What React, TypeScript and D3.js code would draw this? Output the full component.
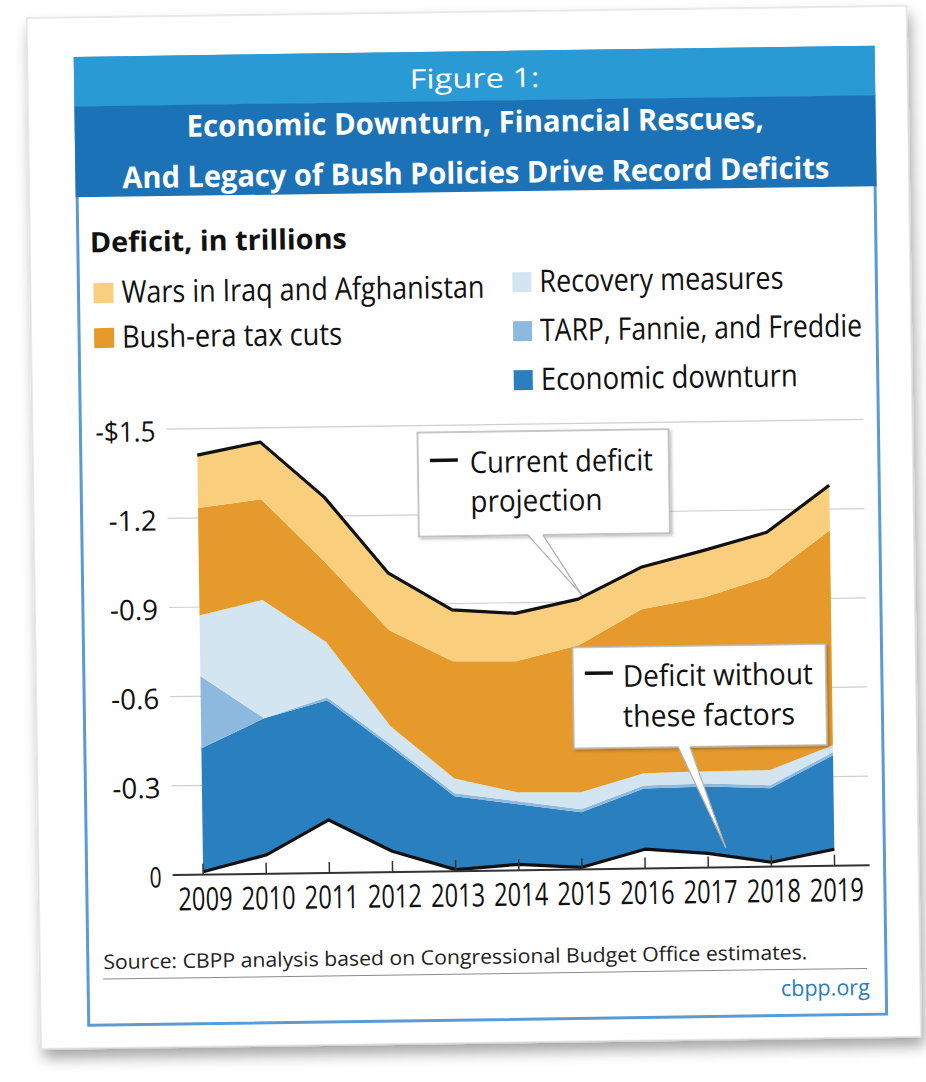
import React from 'react';
import * as d3 from 'd3';

// ---- Data (deficit in trillions, shown as negative on the axis) ----
const years = [2009, 2010, 2011, 2012, 2013, 2014, 2015, 2016, 2017, 2018, 2019];
const deficitWithoutFactors = [0.01, 0.063, 0.178, 0.07, 0.005, 0.02, 0.007, 0.065, 0.048, 0.015, 0.056];
const economicDownturn = [0.415, 0.46, 0.403, 0.35, 0.247, 0.202, 0.185, 0.204, 0.225, 0.249, 0.316];
const tarpFannieFreddie = [0.243, 0.0, 0.01, 0.01, 0.01, 0.01, 0.01, 0.01, 0.01, 0.01, 0.01];
const recoveryMeasures = [0.204, 0.398, 0.186, 0.06, 0.05, 0.03, 0.057, 0.041, 0.041, 0.051, 0.024];
const bushTaxCuts = [0.361, 0.339, 0.268, 0.323, 0.394, 0.441, 0.495, 0.552, 0.585, 0.649, 0.723];
const warsIraqAfghanistan = [0.178, 0.192, 0.219, 0.192, 0.173, 0.161, 0.155, 0.141, 0.158, 0.151, 0.151];

const yTicks = [0, 0.3, 0.6, 0.9, 1.2, 1.5];
const yTickLabels = ['0', '-0.3', '-0.6', '-0.9', '-1.2', '-$1.5'];

const seriesKeys = ['base', 'downturn', 'tarp', 'recovery', 'taxCuts', 'wars'];
const seriesColors: Record<string, string> = {
  base: 'none',
  downturn: '#2a7fbf',
  tarp: '#8cb9dd',
  recovery: '#d4e5f2',
  taxCuts: '#e69a2b',
  wars: '#f9cf7e',
};

const legendLeft = [
  { key: 'wars', label: 'Wars in Iraq and Afghanistan', width: 363 },
  { key: 'taxCuts', label: 'Bush-era tax cuts', width: 220 },
];
const legendRight = [
  { key: 'recovery', label: 'Recovery measures', width: 244 },
  { key: 'tarp', label: 'TARP, Fannie, and Freddie', width: 322 },
  { key: 'downturn', label: 'Economic downturn', width: 257 },
];

const FONT = "'Open Sans', 'Noto Sans', sans-serif";

export default function App() {
  const W = 926;
  const H = 1082;

  const x = d3.scaleLinear().domain([2009, 2019]).range([198.5, 830]);
  const y = d3.scaleLinear().domain([0, 1.5]).range([871, 425]);

  const rows = years.map((yr, i) => ({
    year: yr,
    base: deficitWithoutFactors[i],
    downturn: economicDownturn[i],
    tarp: tarpFannieFreddie[i],
    recovery: recoveryMeasures[i],
    taxCuts: bushTaxCuts[i],
    wars: warsIraqAfghanistan[i],
  }));

  const stacked = d3.stack<any>().keys(seriesKeys)(rows);
  const area = d3
    .area<any>()
    .x((d) => x(d.data.year))
    .y0((d) => y(d[0]))
    .y1((d) => y(d[1]));

  const topLine = d3
    .line<any>()
    .x((d) => x(d.data.year))
    .y((d) => y(d[1]));
  const baseLine = d3
    .line<number>()
    .x((_, i) => x(years[i]))
    .y((d) => y(d));

  const currentSeries = stacked[stacked.length - 1];

  const lineStroke = '#111';

  return (
    <svg
      width={W}
      height={H}
      viewBox={`0 0 ${W} ${H}`}
      style={{ position: 'absolute', left: 0, top: 0, background: '#fff' }}
    >
      <defs>
        <filter id="cardShadow" x="-10%" y="-10%" width="120%" height="120%">
          <feDropShadow dx="3" dy="9" stdDeviation="7" floodColor="#000" floodOpacity="0.35" />
        </filter>
        <filter id="boxShadow" x="-10%" y="-10%" width="130%" height="130%">
          <feDropShadow dx="2" dy="2" stdDeviation="1.5" floodColor="#000" floodOpacity="0.25" />
        </filter>
      </defs>
      <rect x={0} y={0} width={W} height={H} fill="#fff" />
      <g transform="rotate(-0.8 463 541)">
        {/* card */}
        <rect x={34} y={12} width={880} height={1031} fill="#fff" stroke="#d4d4d4" strokeWidth={1} filter="url(#cardShadow)" />

        {/* panel */}
        <rect x={82} y={53} width={798} height={967} fill="#fff" stroke="#5b9bd3" strokeWidth={3} />
        <rect x={80.5} y={51.5} width={801} height={50} fill="#2a9ad5" />
        <rect x={80.5} y={101} width={801} height={91} fill="#1c72b6" />

        <text x={481} y={88} textAnchor="middle" fill="#fff" fontFamily={FONT} fontSize={27}
          textLength={130} lengthAdjust="spacingAndGlyphs">Figure 1:</text>
        <text x={481} y={133} textAnchor="middle" fill="#fff" fontFamily={FONT} fontSize={30} fontWeight="bold"
          textLength={577} lengthAdjust="spacingAndGlyphs">Economic Downturn, Financial Rescues,</text>
        <text x={481} y={183.5} textAnchor="middle" fill="#fff" fontFamily={FONT} fontSize={30} fontWeight="bold"
          textLength={707} lengthAdjust="spacingAndGlyphs">And Legacy of Bush Policies Drive Record Deficits</text>

        {/* subtitle */}
        <text x={94} y={247} fill="#111" fontFamily={FONT} fontSize={28} fontWeight="bold"
          textLength={257} lengthAdjust="spacingAndGlyphs">Deficit, in trillions</text>

        {/* legend */}
        {legendLeft.map((d, i) => {
          const by = 298 + i * 45;
          return (
            <g key={d.key}>
              <rect x={97} y={by - 20} width={20} height={20} fill={seriesColors[d.key]} />
              <text x={125} y={by} fill="#111" fontFamily={FONT} fontSize={31}
                textLength={d.width} lengthAdjust="spacingAndGlyphs">{d.label}</text>
            </g>
          );
        })}
        {legendRight.map((d, i) => {
          const by = 293 + i * 49;
          return (
            <g key={d.key}>
              <rect x={516} y={by - 20} width={19} height={20} fill={seriesColors[d.key]} />
              <text x={543} y={by} fill="#111" fontFamily={FONT} fontSize={31}
                textLength={d.width} lengthAdjust="spacingAndGlyphs">{d.label}</text>
            </g>
          );
        })}

        {/* gridlines */}
        {yTicks.filter((t) => t > 0).map((t) => (
          <line key={t} x1={168} x2={865} y1={y(t)} y2={y(t)} stroke="#cfcfcf" strokeWidth={1.2} />
        ))}

        {/* y labels */}
        {yTicks.map((t, i) => (
          <text key={t} x={157} y={y(t) + 12} textAnchor="end" fill="#111" fontFamily={FONT} fontSize={28}
            textLength={yTickLabels[i].length * 12} lengthAdjust="spacingAndGlyphs">{yTickLabels[i]}</text>
        ))}

        {/* stacked areas */}
        {stacked.map((s) =>
          s.key === 'base' ? null : (
            <path key={s.key} d={area(s as any) || ''} fill={seriesColors[s.key]} />
          )
        )}

        {/* lines */}
        <path d={topLine(currentSeries as any) || ''} fill="none" stroke={lineStroke} strokeWidth={3.2} strokeLinejoin="round" />
        <path d={baseLine(deficitWithoutFactors) || ''} fill="none" stroke={lineStroke} strokeWidth={3.2} strokeLinejoin="round" />

        {/* axis */}
        <line x1={168} x2={865} y1={y(0)} y2={y(0)} stroke="#333" strokeWidth={2} />
        {years.map((yr) => (
          <line key={yr} x1={x(yr)} x2={x(yr)} y1={y(0)} y2={y(0) - 11} stroke="#333" strokeWidth={1.5} />
        ))}
        {years.map((yr) => (
          <text key={yr} transform={`translate(${x(yr) + 2},906.5) scale(0.74,1)`} textAnchor="middle" fill="#111"
            fontFamily={FONT} fontSize={32}>{yr}</text>
        ))}

        {/* annotation: current deficit projection */}
        <g>
          <rect x={419} y={432} width={251} height={104} fill="#fff" stroke="#b5b5b5" strokeWidth={1.5} filter="url(#boxShadow)" />
          <polygon points="528,535 543,535 581,596.5" fill="#fff" />
          <line x1={528} y1={536} x2={581} y2={596.5} stroke="#b0b0b0" strokeWidth={1.2} />
          <line x1={543} y1={536} x2={581} y2={596.5} stroke="#b0b0b0" strokeWidth={1.2} />
          <line x1={431} x2={459} y1={460} y2={460} stroke="#111" strokeWidth={3.5} />
          <text x={471} y={473} fill="#111" fontFamily={FONT} fontSize={30}
            textLength={183} lengthAdjust="spacingAndGlyphs">Current deficit</text>
          <text x={471} y={512} fill="#111" fontFamily={FONT} fontSize={30}
            textLength={132} lengthAdjust="spacingAndGlyphs">projection</text>
        </g>

        {/* annotation: deficit without these factors */}
        <g>
          <rect x={571} y={649} width={253} height={101} fill="#fff" stroke="#b5b5b5" strokeWidth={1.5} filter="url(#boxShadow)" />
          <polygon points="675,749 687,749 721.5,851.5" fill="#fff" />
          <line x1={675} y1={750} x2={721.5} y2={851.5} stroke="#b0b0b0" strokeWidth={1.2} />
          <line x1={687} y1={750} x2={721.5} y2={851.5} stroke="#b0b0b0" strokeWidth={1.2} />
          <line x1={583} x2={611} y1={675} y2={675} stroke="#111" strokeWidth={3.5} />
          <text x={621} y={689} fill="#111" fontFamily={FONT} fontSize={30}
            textLength={190} lengthAdjust="spacingAndGlyphs">Deficit without</text>
          <text x={620.5} y={729} fill="#111" fontFamily={FONT} fontSize={30}
            textLength={172} lengthAdjust="spacingAndGlyphs">these factors</text>
        </g>

        {/* source */}
        <text x={97.5} y={964} fill="#222" fontFamily={FONT} fontSize={20}
          textLength={704} lengthAdjust="spacingAndGlyphs">Source: CBPP analysis based on Congressional Budget Office estimates.</text>
        <line x1={97} x2={861} y1={974} y2={974} stroke="#8a8a8a" strokeWidth={1} />
        <text x={863.5} y={1000.5} textAnchor="end" fill="#2b7cc0" fontFamily={FONT} fontSize={22}
          textLength={89} lengthAdjust="spacingAndGlyphs">cbpp.org</text>
      </g>
    </svg>
  );
}
